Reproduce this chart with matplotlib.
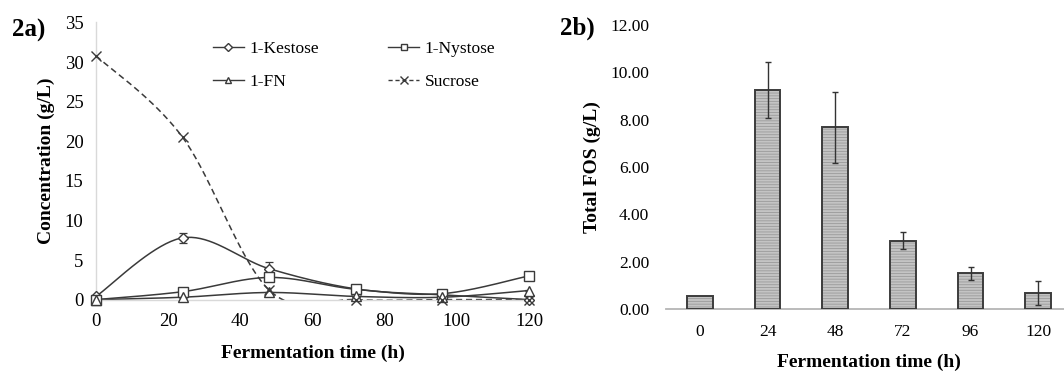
import numpy as np
import matplotlib
matplotlib.use("Agg")
import matplotlib.pyplot as plt
from matplotlib.lines import Line2D

# ---------------- data ----------------
time_h = [0, 24, 48, 72, 96, 120]
kestose = [0.4, 7.8, 3.9, 1.35, 0.6, 0.0]
kestose_err = [0.1, 0.6, 0.9, 0.1, 0.1, 0.0]
nystose = [0.0, 1.0, 2.8, 1.3, 0.75, 3.0]
nystose_err = [0.0, 0.3, 0.2, 0.1, 0.1, 0.1]
fn = [0.0, 0.3, 0.9, 0.4, 0.3, 1.15]
fn_err = [0.0, 0.1, 0.1, 0.05, 0.05, 0.1]
sucrose = [30.8, 20.5, 1.2, 0.0, 0.0, 0.0]

bar_labels = ["0", "24", "48", "72", "96", "120"]
total_fos = [0.54, 9.25, 7.68, 2.88, 1.51, 0.68]
total_fos_err = [0.0, 1.18, 1.5, 0.36, 0.27, 0.5]

plt.rcParams['font.family'] = ['Liberation Serif', 'DejaVu Serif']
plt.rcParams['hatch.linewidth'] = 0.6

DARK = '#3a3a3a'


def smooth(x, y, n=40):
    """Excel-like Catmull-Rom smoothing through the data points."""
    x = np.asarray(x, float); y = np.asarray(y, float)
    px = np.concatenate([[x[0]], x, [x[-1]]])
    py = np.concatenate([[y[0]], y, [y[-1]]])
    xs, ys = [], []
    t = np.linspace(0, 1, n)
    for i in range(1, len(x)):
        p0 = np.array([px[i], py[i]]); p3 = np.array([px[i + 1], py[i + 1]])
        p1 = p0 + (np.array([px[i + 1], py[i + 1]]) - np.array([px[i - 1], py[i - 1]])) / 6
        p2 = p3 - (np.array([px[i + 2], py[i + 2]]) - np.array([px[i], py[i]])) / 6
        b = ((1 - t) ** 3)[:, None] * p0 + (3 * (1 - t) ** 2 * t)[:, None] * p1 + \
            (3 * (1 - t) * t ** 2)[:, None] * p2 + (t ** 3)[:, None] * p3
        xs.append(b[:, 0]); ys.append(b[:, 1])
    return np.concatenate(xs), np.concatenate(ys)


fig = plt.figure(figsize=(10.64, 3.72), dpi=100)

# ---------------- panel a ----------------
ax1 = fig.add_axes([0.0902, 0.1946, 0.407, 0.745])
series = [
    ("1-Kestose", kestose, kestose_err, 'D', '-', 5.5),
    ("1-Nystose", nystose, nystose_err, 's', '-', 6.5),
    ("1-FN", fn, fn_err, '^', '-', 6.5),
    ("Sucrose", sucrose, None, 'x', '--', 7),
]
handles = []
for name, vals, err, mk, ls, ms in series:
    sx, sy = smooth(time_h, vals)
    if ls == '--':
        ax1.plot(sx, sy, color=DARK, lw=1.1, ls=(0, (4, 2.5)))
    else:
        ax1.plot(sx, sy, color=DARK, lw=1.1, ls='-')
    if err is not None:
        ax1.errorbar(time_h, vals, yerr=err, fmt='none', ecolor=DARK, elinewidth=0.9,
                     capsize=3, capthick=0.9)
    ax1.plot(time_h, vals, ls='none', marker=mk, ms=ms, mfc='white', mec=DARK,
             mew=1.0, clip_on=False, zorder=5)
    if ls == '--':
        h = Line2D([], [], color=DARK, lw=1.0, ls=(0, (3, 2)), marker=mk, ms=6, mec=DARK)
    else:
        h = Line2D([], [], color=DARK, lw=1.0, ls='-', marker=mk, ms=ms - 1.5, mfc='white', mec=DARK)
    handles.append(h)

ax1.set_xlim(0, 120)
ax1.set_ylim(0, 35)
ax1.set_xticks([0, 20, 40, 60, 80, 100, 120])
ax1.set_yticks([0, 5, 10, 15, 20, 25, 30, 35])
for s in ['top', 'right']:
    ax1.spines[s].set_visible(False)
for s in ['left', 'bottom']:
    ax1.spines[s].set_color('#d9d9d9')
    ax1.spines[s].set_linewidth(1.0)
ax1.tick_params(axis='both', length=0, labelsize=13.5)
ax1.tick_params(axis='y', pad=9)
ax1.tick_params(axis='x', pad=10)
ax1.set_xlabel("Fermentation time (h)", fontsize=14, fontweight='bold', labelpad=10)
ax1.set_ylabel("Concentration (g/L)", fontsize=14, fontweight='bold', labelpad=7)

order = [0, 2, 1, 3]
ax1.legend([handles[i] for i in order], [series[i][0] for i in order], ncol=2, frameon=False,
           loc='upper left', bbox_to_anchor=(204 / 1064, 1 - 32 / 372),
           bbox_transform=fig.transFigure, fontsize=12.5, handlelength=1.8,
           handletextpad=0.3, columnspacing=4.0, labelspacing=1.0, borderpad=0)

fig.text(12 / 1064, 1 - 30 / 372, "2a)", fontsize=18, fontweight='bold', va='center', ha='left')

# ---------------- panel b ----------------
ax2 = fig.add_axes([666 / 1064, 1 - 309 / 372, 406 / 1064, (309 - 25) / 372])
pos = np.arange(len(bar_labels))
ax2.bar(pos, total_fos, width=0.38, color='#c4c4c4', edgecolor='#9a9a9a', lw=0,
        hatch='------', zorder=2)
ax2.bar(pos, total_fos, width=0.38, fill=False, edgecolor='#3c3c3c', lw=1.4, zorder=3)
ax2.errorbar(pos[1:], total_fos[1:], yerr=total_fos_err[1:], fmt='none', ecolor='#333333',
             elinewidth=1.0, capsize=2.5, capthick=1.0, zorder=4)
ax2.set_xlim(-0.5, 5.5)
ax2.set_ylim(0, 12)
ax2.set_xticks(pos)
ax2.set_xticklabels(bar_labels)
ax2.set_yticks([0, 2, 4, 6, 8, 10, 12])
ax2.set_yticklabels([f"{v:.2f}" for v in [0, 2, 4, 6, 8, 10, 12]])
for s in ['top', 'right', 'left']:
    ax2.spines[s].set_visible(False)
ax2.spines['bottom'].set_color('#b5b5b5')
ax2.spines['bottom'].set_linewidth(1.3)
ax2.tick_params(axis='both', length=0, labelsize=12.5)
ax2.tick_params(axis='y', pad=12)
ax2.tick_params(axis='x', pad=11)
ax2.set_xlabel("Fermentation time (h)", fontsize=14, fontweight='bold', labelpad=10)
ax2.set_ylabel("Total FOS (g/L)", fontsize=14, fontweight='bold', labelpad=7)

fig.text(560 / 1064, 1 - 28 / 372, "2b)", fontsize=18, fontweight='bold', va='center', ha='left')

fig.savefig("out.png", dpi=100)
